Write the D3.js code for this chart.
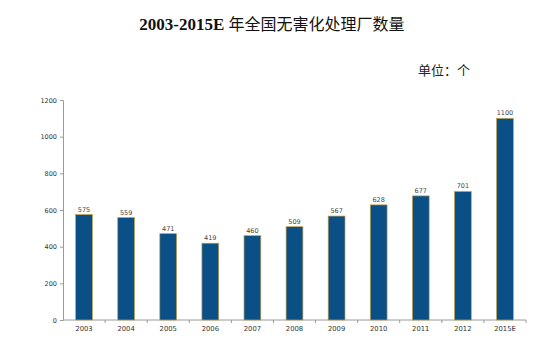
<!DOCTYPE html>
<html>
<head>
<meta charset="utf-8">
<script src="https://cdn.jsdelivr.net/npm/d3@7"></script>
<style>
  html, body { margin: 0; padding: 0; background: #fff; }
  svg { display: block; }
</style>
</head>
<body>
<svg id="chart" width="558" height="338"></svg>
<script>
// Number of harmless-treatment plants nationwide, 2003-2015E
const years = ["2003", "2004", "2005", "2006", "2007", "2008", "2009", "2010", "2011", "2012", "2015E"];
const plants = [575, 559, 471, 419, 460, 509, 567, 628, 677, 701, 1100];
const yTicks = [0, 200, 400, 600, 800, 1000, 1200];

const svg = d3.select("#chart");
const margin = { left: 63, right: 32, top: 100, bottom: 18 };
const W = 558, H = 338;

const x = d3.scaleBand()
  .domain(years)
  .range([margin.left, W - margin.right])
  .paddingInner(0.6)
  .paddingOuter(0.3);

const y = d3.scaleLinear()
  .domain([0, 1200])
  .range([H - margin.bottom, margin.top]);

// Title
const title = svg.append("text")
  .attr("x", 272)
  .attr("y", 30)
  .attr("text-anchor", "middle")
  .attr("fill", "#111");
title.append("tspan")
  .attr("font-family", "'Liberation Serif', 'Times New Roman', serif")
  .attr("font-weight", "bold")
  .attr("font-size", 17)
  .text("2003-2015E ");
title.append("tspan")
  .attr("font-family", "'Noto Sans CJK SC', sans-serif")
  .attr("font-size", 16)
  .text("年全国无害化处理厂数量");

// Unit note
svg.append("text")
  .attr("x", 444)
  .attr("y", 75)
  .attr("text-anchor", "middle")
  .attr("font-family", "'Noto Sans CJK SC', sans-serif")
  .attr("font-size", 13)
  .attr("fill", "#222")
  .text("单位：个");

// Y axis
const yAxis = svg.append("g")
  .attr("transform", `translate(${margin.left},0)`)
  .call(d3.axisLeft(y).tickValues(yTicks).tickFormat(d3.format("d")).tickSize(3).tickPadding(3));
yAxis.select(".domain").attr("stroke", "#9a9a9a");
yAxis.selectAll(".tick line").attr("stroke", "#9a9a9a");
yAxis.selectAll(".tick text")
  .attr("font-family", "'DejaVu Sans', sans-serif")
  .attr("font-size", 6.5)
  .attr("fill", "#333");

// X axis with ticks between the categories
const xAxisG = svg.append("g")
  .attr("transform", `translate(0,${y(0)})`);
xAxisG.append("line")
  .attr("x1", margin.left).attr("x2", W - margin.right)
  .attr("stroke", "#9a9a9a");
const step = x.step();
xAxisG.selectAll(".sep")
  .data(years)
  .join("line")
  .attr("class", "sep")
  .attr("x1", d => x(d) + x.bandwidth() / 2 + step / 2)
  .attr("x2", d => x(d) + x.bandwidth() / 2 + step / 2)
  .attr("y1", 0).attr("y2", 3)
  .attr("stroke", "#9a9a9a");
xAxisG.selectAll(".lbl")
  .data(years)
  .join("text")
  .attr("class", "lbl")
  .attr("x", d => x(d) + x.bandwidth() / 2)
  .attr("y", 11)
  .attr("text-anchor", "middle")
  .attr("font-family", "'DejaVu Sans', sans-serif")
  .attr("font-size", 6.8)
  .attr("fill", "#333")
  .text(d => d);

// Bars
svg.append("g")
  .selectAll("rect")
  .data(years.map((d, i) => ({ year: d, value: plants[i] })))
  .join("rect")
  .attr("x", d => x(d.year))
  .attr("y", d => y(d.value))
  .attr("width", x.bandwidth())
  .attr("height", d => y(0) - y(d.value))
  .attr("fill", "#0a4f86")
  .attr("stroke", "#c9a24a")
  .attr("stroke-width", 0.7);

// Value labels
svg.append("g")
  .selectAll("text")
  .data(years.map((d, i) => ({ year: d, value: plants[i] })))
  .join("text")
  .attr("x", d => x(d.year) + x.bandwidth() / 2)
  .attr("y", d => y(d.value) - 3)
  .attr("text-anchor", "middle")
  .attr("font-family", "'DejaVu Sans', sans-serif")
  .attr("font-size", 6.5)
  .attr("fill", "#444")
  .text(d => d.value);
</script>
</body>
</html>
